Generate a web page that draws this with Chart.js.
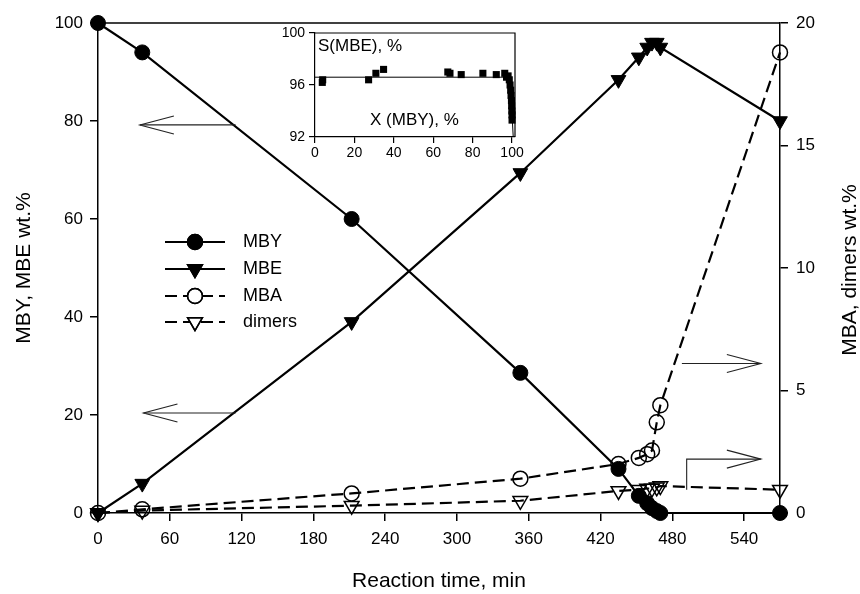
<!DOCTYPE html>
<html>
<head>
<meta charset="utf-8">
<script src="https://cdn.jsdelivr.net/npm/chart.js@4.4.0/dist/chart.umd.min.js"></script>
<style>
  html, body { margin: 0; padding: 0; background: #fff; }
  #wrap { position: relative; width: 860px; height: 594px; }
  #main { position: absolute; left: 0; top: 0; }
  #inset { position: absolute; left: 260px; top: 20px; }
</style>
</head>
<body>
<div id="wrap">
  <canvas id="main" width="860" height="594"></canvas>
  <canvas id="inset" width="270" height="150"></canvas>
</div>
<script>
// reaction time, min
const TIME = [0, 37, 212, 353, 435, 452, 459, 463, 467, 470, 570];
// left axis, wt.%
const MBY = [100, 94, 60, 28.6, 9, 3.5, 2, 1, 0.4, 0, 0];
const MBE = [0, 6, 39, 69.4, 88.4, 93, 95, 96, 96, 95, 80];
// right axis, wt.%
const MBA = [0, 0.15, 0.8, 1.4, 2.0, 2.25, 2.4, 2.55, 3.7, 4.4, 18.8];
const DIMERS = [0, 0.1, 0.3, 0.5, 0.9, 0.95, 1.0, 1.0, 1.05, 1.1, 0.95];

const X_TICKS = [0, 60, 120, 180, 240, 300, 360, 420, 480, 540];

// inset: selectivity vs conversion
const INSET_X = [3.7, 3.9, 27.2, 30.9, 34.8, 67.4, 68.5, 74.2, 85.2, 92, 96.3, 97.2, 98, 98.6, 99, 99.3, 99.5, 99.7, 99.8, 99.9, 100, 100];
const INSET_S = [96.2, 96.4, 96.4, 96.9, 97.2, 97.0, 96.9, 96.8, 96.9, 96.8, 96.9, 96.6, 96.7, 96.4, 96.0, 95.6, 95.2, 94.8, 94.4, 94.0, 93.7, 93.3];
const FIT_X = [0, 99, 100.6];
const FIT_S = [96.6, 96.6, 92];

const FONT = "'Liberation Sans', Arial, sans-serif";
const INK = "#000";

const pts = (xs, ys) => xs.map((x, i) => ({ x, y: ys[i] }));

const legendItems = [
  { label: "MBY", style: "circle", fill: true, dash: [] },
  { label: "MBE", style: "triangle", fill: true, dash: [] },
  { label: "MBA", style: "circle", fill: false, dash: [12, 6] },
  { label: "dimers", style: "triangle", fill: false, dash: [12, 6] },
];

function drawMarker(ctx, style, fill, x, y) {
  ctx.save();
  ctx.setLineDash([]);
  ctx.lineWidth = 1.5;
  ctx.strokeStyle = INK;
  ctx.fillStyle = fill ? INK : "#fff";
  Chart.helpers.drawPoint(ctx, { pointStyle: style, radius: style === "circle" ? 7.5 : 8.5, rotation: style === "triangle" ? 180 : 0, borderWidth: 1.5 }, x, y);
  if (fill) ctx.fill();
  ctx.stroke();
  ctx.restore();
}

function arrowHead(ctx, tx, ty, dx, dy) {
  const len = 34, half = 9;
  const bx = tx - dx * len, by = ty - dy * len;
  ctx.beginPath();
  ctx.moveTo(bx - dy * half, by + dx * half);
  ctx.lineTo(tx, ty);
  ctx.lineTo(bx + dy * half, by - dx * half);
  ctx.stroke();
}

const decorPlugin = {
  id: "decor",
  afterDraw(chart) {
    const { ctx, chartArea: a, scales } = chart;
    const sx = scales.x, sy = scales.y, sy2 = scales.y2;
    ctx.save();
    // top frame line
    ctx.strokeStyle = INK;
    ctx.lineWidth = 1.5;
    ctx.beginPath();
    ctx.moveTo(a.left, a.top);
    ctx.lineTo(a.right, a.top);
    ctx.stroke();

    // arrows pointing to the axes
    ctx.lineWidth = 1.1;
    ctx.strokeStyle = "#222";
    const hArrowLeft = (t0, t1, v) => {
      const y = sy.getPixelForValue(v);
      const x0 = sx.getPixelForValue(t0), x1 = sx.getPixelForValue(t1);
      ctx.beginPath(); ctx.moveTo(x1, y); ctx.lineTo(x0, y); ctx.stroke();
      arrowHead(ctx, x0, y, -1, 0);
    };
    hArrowLeft(35, 115, 79.2);
    hArrowLeft(38, 115, 20.4);

    let y = sy2.getPixelForValue(6.1);
    let x0 = sx.getPixelForValue(488), x1 = sx.getPixelForValue(554);
    ctx.beginPath(); ctx.moveTo(x0, y); ctx.lineTo(x1, y); ctx.stroke();
    arrowHead(ctx, x1, y, 1, 0);

    const yb = sy2.getPixelForValue(0.95), yt = sy2.getPixelForValue(2.2);
    x0 = sx.getPixelForValue(492);
    ctx.beginPath(); ctx.moveTo(x0, yb); ctx.lineTo(x0, yt); ctx.lineTo(x1, yt); ctx.stroke();
    arrowHead(ctx, x1, yt, 1, 0);

    // legend
    const lx0 = 165, lx1 = 225, tx = 243;
    const rows = [242, 269, 296, 322];
    ctx.font = "18px " + FONT;
    ctx.textBaseline = "middle";
    ctx.fillStyle = INK;
    legendItems.forEach((it, i) => {
      const ry = rows[i];
      ctx.save();
      ctx.strokeStyle = INK;
      ctx.lineWidth = 2.2;
      ctx.setLineDash(it.dash);
      ctx.beginPath(); ctx.moveTo(lx0, ry); ctx.lineTo(lx1, ry); ctx.stroke();
      ctx.restore();
      drawMarker(ctx, it.style, it.fill, (lx0 + lx1) / 2, ry);
      ctx.fillText(it.label, tx, ry);
    });

    // right axis title, reading bottom to top
    ctx.save();
    ctx.translate(850, 270);
    ctx.rotate(-Math.PI / 2);
    ctx.textAlign = "center";
    ctx.textBaseline = "middle";
    ctx.font = "21px " + FONT;
    ctx.fillText("MBA, dimers wt.%", 0, 0);
    ctx.restore();
    ctx.restore();
  },
};

const axisLine = { display: true, color: INK, width: 1.5 };
const outTicks = { display: true, drawOnChartArea: false, drawTicks: true, tickLength: 8, color: INK, lineWidth: 1.5 };

new Chart(document.getElementById("main"), {
  type: "line",
  data: {
    datasets: [
      {
        label: "MBY", data: pts(TIME, MBY), yAxisID: "y",
        borderColor: INK, borderWidth: 2.2, backgroundColor: INK,
        pointStyle: "circle", pointRadius: 7.5, pointBackgroundColor: INK, pointBorderColor: INK, pointBorderWidth: 1,
        clip: false, order: 1,
      },
      {
        label: "MBE", data: pts(TIME, MBE), yAxisID: "y",
        borderColor: INK, borderWidth: 2.2, backgroundColor: INK,
        pointStyle: "triangle", pointRotation: 180, pointRadius: 8.5, pointBackgroundColor: INK, pointBorderColor: INK, pointBorderWidth: 1,
        clip: false, order: 2,
      },
      {
        label: "MBA", data: pts(TIME, MBA), yAxisID: "y2",
        borderColor: INK, borderWidth: 2.2, borderDash: [12, 6],
        pointStyle: "circle", pointRadius: 7.5, pointBackgroundColor: "rgba(0,0,0,0)", pointBorderColor: INK, pointBorderWidth: 1.5,
        clip: false, order: 3,
      },
      {
        label: "dimers", data: pts(TIME, DIMERS), yAxisID: "y2",
        borderColor: INK, borderWidth: 2.2, borderDash: [12, 6],
        pointStyle: "triangle", pointRotation: 180, pointRadius: 8.5, pointBackgroundColor: "rgba(0,0,0,0)", pointBorderColor: INK, pointBorderWidth: 1.5,
        clip: false, order: 4,
      },
    ],
  },
  options: {
    responsive: false,
    animation: false,
    devicePixelRatio: 1,
    layout: { padding: { top: 23, left: 0, right: 0, bottom: 0 } },
    plugins: { legend: { display: false }, tooltip: { enabled: false } },
    scales: {
      x: {
        type: "linear", min: 0, max: 570,
        afterBuildTicks: (s) => { s.ticks = X_TICKS.map((v) => ({ value: v })); },
        afterFit: (s) => { s.height = 81; },
        border: axisLine, grid: outTicks,
        ticks: { color: INK, font: { family: FONT, size: 17 }, padding: 8, maxRotation: 0 },
        title: { display: true, text: "Reaction time, min", color: INK, font: { family: FONT, size: 21 }, padding: { top: 0, bottom: 0 } },
      },
      y: {
        position: "left", min: 0, max: 100,
        afterFit: (s) => { s.width = 98; },
        border: axisLine, grid: outTicks,
        ticks: { stepSize: 20, color: INK, font: { family: FONT, size: 17 }, padding: 7 },
        title: { display: true, text: "MBY, MBE wt.%", color: INK, font: { family: FONT, size: 21 }, padding: { top: 12, bottom: 0 } },
      },
      y2: {
        position: "right", min: 0, max: 20,
        afterFit: (s) => { s.width = 80; },
        border: axisLine, grid: outTicks,
        ticks: { stepSize: 5, color: INK, font: { family: FONT, size: 17 }, padding: 8 },
      },
    },
  },
  plugins: [decorPlugin],
});

const insetPlugin = {
  id: "insetDecor",
  afterDraw(chart) {
    const { ctx, chartArea: a } = chart;
    ctx.save();
    ctx.strokeStyle = INK;
    ctx.lineWidth = 1.2;
    ctx.beginPath();
    ctx.moveTo(a.left, a.top);
    ctx.lineTo(a.right, a.top);
    ctx.lineTo(a.right, a.bottom);
    ctx.stroke();
    ctx.fillStyle = INK;
    ctx.font = "17px " + FONT;
    ctx.textBaseline = "middle";
    ctx.fillText("S(MBE), %", a.left + 3, a.top + 13);
    ctx.fillText("X (MBY), %", a.left + 55, a.bottom - 17);
    ctx.restore();
  },
};

new Chart(document.getElementById("inset"), {
  type: "scatter",
  data: {
    datasets: [
      {
        type: "line", data: pts(FIT_X, FIT_S),
        borderColor: INK, borderWidth: 1, pointRadius: 0, tension: 0,
      },
      {
        data: pts(INSET_X, INSET_S),
        pointStyle: "rect", pointRadius: 5,
        pointBackgroundColor: INK, pointBorderColor: INK, pointBorderWidth: 0,
        clip: false,
      },
    ],
  },
  options: {
    responsive: false,
    animation: false,
    devicePixelRatio: 1,
    layout: { padding: { top: 13, left: 0, right: 15, bottom: 0 } },
    plugins: { legend: { display: false }, tooltip: { enabled: false } },
    scales: {
      x: {
        type: "linear", min: 0, max: 101.5,
        afterFit: (s) => { s.height = 33; },
        border: { display: true, color: INK, width: 1.2 },
        grid: { display: true, drawOnChartArea: false, drawTicks: true, tickLength: 6, color: INK, lineWidth: 1.2 },
        ticks: { stepSize: 20, includeBounds: false, color: INK, font: { family: FONT, size: 14 }, padding: 2, maxRotation: 0 },
      },
      y: {
        min: 92, max: 100,
        afterFit: (s) => { s.width = 55; },
        border: { display: true, color: INK, width: 1.2 },
        grid: { display: true, drawOnChartArea: false, drawTicks: true, tickLength: 6, color: INK, lineWidth: 1.2 },
        ticks: { stepSize: 4, color: INK, font: { family: FONT, size: 14 }, padding: 4 },
      },
    },
  },
  plugins: [insetPlugin],
});
</script>
</body>
</html>
